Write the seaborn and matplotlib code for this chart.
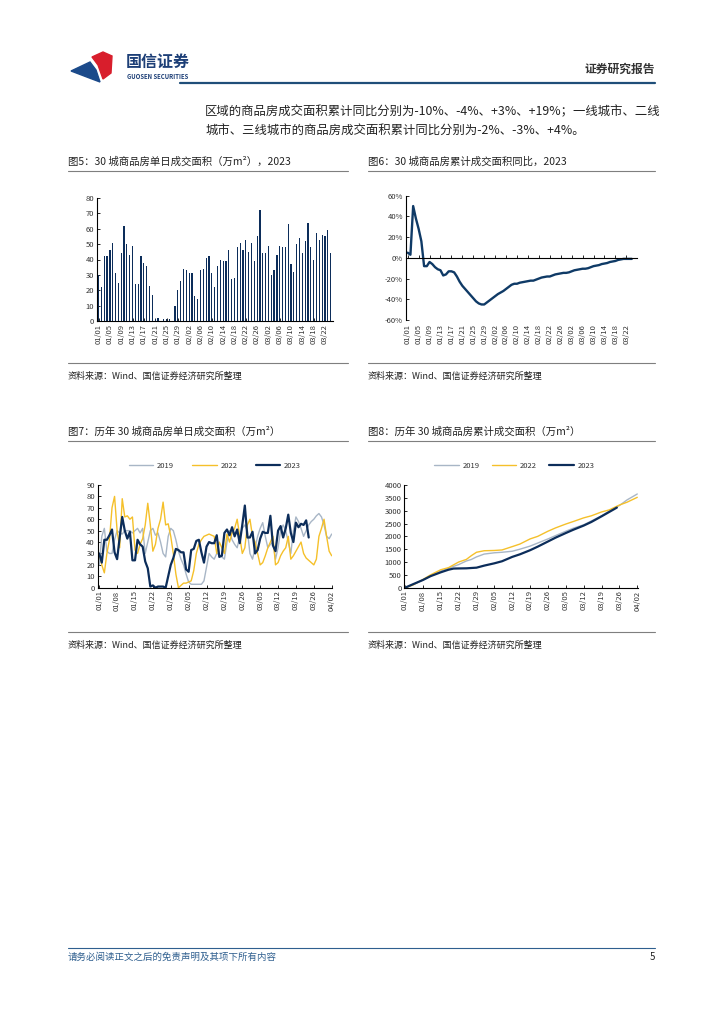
import numpy as np
import pandas as pd
import seaborn as sns
import matplotlib.pyplot as plt
from matplotlib.lines import Line2D
from matplotlib.patches import Polygon
from matplotlib.ticker import FuncFormatter

sns.set_theme(style='ticks')
plt.rcParams['font.family'] = ['Noto Sans CJK SC', 'DejaVu Sans']
plt.rcParams['axes.unicode_minus'] = False

W, H = 724, 1024
navy = '#0c2d5a'
gold = '#f5c02a'
grey = '#a8b6c6'
txt = '#222222'

# dates 01/01 .. 04/02
days = pd.date_range('2023-01-01', periods=92).strftime('%m/%d').tolist()

# fig 5 / fig 7: 2023 daily volume (10k m2), 01/01 .. 03/24
daily_2023 = [30, 22, 42, 42, 46, 51, 31, 25, 44, 62, 50, 43, 49, 24, 24, 42, 38, 36, 23, 17,
              1, 2, 0, 1, 1, 1, 0, 10, 20, 26, 34, 33, 31, 31, 16, 14, 33, 34, 41, 42,
              31, 22, 36, 40, 39, 39, 46, 27, 28, 48, 51, 46, 53, 45, 51, 39, 55, 72, 44, 44,
              49, 30, 33, 43, 49, 48, 48, 63, 37, 32, 50, 54, 44, 52, 64, 48, 40, 57, 53, 56,
              55, 59, 44]

# fig 6: cumulative yoy (%)
yoy_2023 = [5, 3, 50, 38, 28, 16, -8, -8, -4, -6, -9, -11, -12, -17, -16, -13, -13, -14, -18, -23,
            -27, -30, -33, -36, -39, -42, -44, -45, -45, -43, -41, -39, -37, -35, -33.5, -32, -30, -28, -26, -25,
            -25, -24, -23.5, -23, -22.5, -22, -22, -21, -20, -19, -18.5, -18, -18, -17, -16, -15.5, -15, -14.5, -14.5, -14,
            -13, -12, -11.5, -11, -10.5, -10.5, -10, -9, -8, -7.5, -7, -6, -5.5, -5, -4, -3.5, -3, -2, -1.5, -1,
            -1, -1, -1]

# fig 7: daily volume 2019 / 2022, 01/01 .. 04/02
daily_2019 = [20, 45, 52, 32, 30, 30, 42, 50, 48, 47, 50, 50, 50, 48, 50, 52, 48, 52, 30, 40,
              50, 52, 46, 48, 40, 30, 27, 45, 52, 50, 42, 32, 25, 20, 12, 5, 3, 3, 3, 3,
              3, 6, 18, 30, 27, 25, 30, 29, 27, 25, 40, 50, 42, 38, 35, 45, 52, 55, 50, 30,
              25, 35, 45, 52, 57, 45, 35, 38, 40, 25, 35, 50, 55, 50, 40, 30, 50, 62, 58, 52,
              45, 50, 55, 58, 60, 63, 65, 62, 55, 45, 43, 47]
daily_2022 = [30, 20, 13, 30, 42, 70, 80, 50, 35, 78, 62, 63, 60, 62, 33, 30, 38, 43, 55, 74,
              55, 32, 38, 52, 60, 75, 55, 56, 45, 30, 12, 0, 2, 4, 4, 5, 6, 15, 30, 38,
              42, 45, 46, 47, 46, 45, 30, 40, 35, 30, 47, 40, 48, 52, 60, 45, 30, 35, 55, 60,
              45, 40, 30, 20, 22, 28, 35, 40, 45, 20, 22, 28, 32, 35, 45, 25, 28, 32, 36, 40,
              30, 26, 24, 22, 20, 25, 45, 52, 60, 45, 32, 28]

# fig 8: cumulative volume, read at selected days (index from 01/01)
cum_2019_idx = [0, 3, 7, 10, 14, 17, 21, 24, 26, 28, 31, 35, 38, 42, 45, 49, 52, 56, 59, 63, 66, 70, 73, 77, 80, 84, 87, 91]
cum_2019 = [0, 120, 300, 460, 650, 760, 900, 1040, 1100, 1200, 1310, 1360, 1380, 1420, 1500, 1620, 1740, 1900,
            2030, 2200, 2320, 2450, 2600, 2800, 2980, 3200, 3420, 3650]
cum_2022_idx = [0, 3, 7, 10, 14, 17, 21, 24, 26, 28, 31, 35, 38, 42, 45, 49, 52, 56, 59, 63, 66, 70, 73, 77, 80, 84, 87, 91]
cum_2022 = [0, 100, 320, 500, 700, 780, 1000, 1100, 1250, 1380, 1440, 1450, 1470, 1600, 1700, 1900, 2000, 2200,
            2330, 2480, 2580, 2720, 2800, 2950, 3030, 3220, 3330, 3520]
cum_2023_idx = [0, 3, 7, 10, 14, 17, 19, 21, 24, 28, 31, 35, 38, 42, 45, 49, 52, 56, 59, 63, 66, 70, 73, 77, 80, 83]
cum_2023 = [0, 130, 300, 450, 600, 700, 745, 750, 755, 780, 860, 950, 1030, 1200, 1300, 1460, 1600, 1800,
            1950, 2130, 2260, 2420, 2560, 2780, 2950, 3120]

fig = plt.figure(figsize=(W / 100, H / 100), dpi=100)


def px_axes(x0, y0, x1, y1):
    return fig.add_axes([x0 / W, 1 - y1 / H, (x1 - x0) / W, (y1 - y0) / H])


def ftext(x, y, s, **kw):
    kw.setdefault('va', 'center')
    kw.setdefault('color', txt)
    fig.text(x / W, 1 - y / H, s, **kw)


def hline(x0, x1, y, color='#7f7f7f', lw=0.8):
    fig.add_artist(Line2D([x0 / W, x1 / W], [1 - y / H, 1 - y / H], color=color, lw=lw,
                          transform=fig.transFigure))


def style(ax):
    sns.despine(ax=ax)
    for s in ('left', 'bottom'):
        ax.spines[s].set_linewidth(0.8)
        ax.spines[s].set_color('black')
    ax.tick_params(axis='both', direction='in', length=2.5, width=0.7, labelsize=5.5,
                   labelcolor='#333333', pad=2)
    ax.tick_params(axis='x', labelrotation=90)
    ax.set_xlabel('')
    ax.set_ylabel('')
    ax.set_facecolor('none')


# ---------- header ----------
fig.add_artist(Polygon([(71 / W, 1 - 71 / H), (90 / W, 1 - 62 / H), (96 / W, 1 - 70 / H),
                        (100 / W, 1 - 82 / H), (92 / W, 1 - 79 / H)],
                       closed=True, color='#1b4a8a', transform=fig.transFigure))
fig.add_artist(Polygon([(92 / W, 1 - 57 / H), (103 / W, 1 - 52 / H), (112 / W, 1 - 56 / H),
                        (111 / W, 1 - 73 / H), (103 / W, 1 - 79 / H), (98 / W, 1 - 65 / H)],
                       closed=True, color='#d81e2c', transform=fig.transFigure))
ftext(126, 62, '国信证券', fontsize=11.5, weight='bold', color='#1d3f77')
ftext(127, 76.5, 'GUOSEN SECURITIES', fontsize=4.3, weight='bold', color='#1d3f77')
ftext(655, 69, '证券研究报告', fontsize=8.5, weight='bold', color='#333333', ha='right')
hline(180, 655, 83, color='#1f4e79', lw=1.6)

ftext(205, 112, '区域的商品房成交面积累计同比分别为-10%、-4%、+3%、+19%；一线城市、二线', fontsize=8.9)
ftext(205, 131, '城市、三线城市的商品房成交面积累计同比分别为-2%、-3%、+4%。', fontsize=8.9)

# ---------- titles, separators, sources ----------
ftext(68, 162, '图5：30 城商品房单日成交面积（万m²），2023', fontsize=7.5)
ftext(368, 162, '图6：30 城商品房累计成交面积同比，2023', fontsize=7.5)
ftext(68, 432, '图7：历年 30 城商品房单日成交面积（万m²）', fontsize=7.5)
ftext(368, 432, '图8：历年 30 城商品房累计成交面积（万m²）', fontsize=7.5)
for y in (171, 363, 441, 632):
    hline(68, 348, y)
    hline(368, 655, y)
for x in (68, 368):
    ftext(x, 376, '资料来源：Wind、国信证券经济研究所整理', fontsize=6.5)
    ftext(x, 645, '资料来源：Wind、国信证券经济研究所整理', fontsize=6.5)

# ---------- fig 5 ----------
ax5 = px_axes(97, 198, 333.3, 321)
sns.barplot(x=days[:len(daily_2023)], y=daily_2023, color=navy, saturation=1, width=0.42,
            linewidth=0, ax=ax5)
ax5.set_ylim(0, 80)
ax5.set_yticks(range(0, 81, 10))
ax5.set_xlim(-0.56, len(daily_2023) - 0.08)
ax5.set_xticks(range(0, len(daily_2023), 4))
ax5.set_xticklabels(days[0:len(daily_2023):4])
style(ax5)

# ---------- fig 6 ----------
ax6 = px_axes(405.7, 195.7, 636.7, 320)
sns.lineplot(x=np.arange(len(yoy_2023)), y=yoy_2023, color='#0f3a66', lw=1.7, ax=ax6)
ax6.set_ylim(-60, 60)
ax6.set_yticks(range(-60, 61, 20))
ax6.yaxis.set_major_formatter(FuncFormatter(lambda v, p: f'{int(v)}%'))
ax6.set_xlim(-0.73, len(yoy_2023) + 0.8)
style(ax6)
ax6.spines['bottom'].set_position(('data', 0))
ax6.set_xticks(range(0, len(yoy_2023), 4))
ax6.tick_params(axis='x', labelbottom=False)
sec6 = ax6.secondary_xaxis(0.0)
sec6.set_xticks(range(0, len(yoy_2023), 4))
sec6.set_xticklabels(days[0:len(yoy_2023):4])
sec6.tick_params(axis='x', length=0, labelsize=5.5, labelcolor='#333333', labelrotation=90, pad=3)
sec6.spines['bottom'].set_visible(False)

# ---------- fig 7 ----------
ax7 = px_axes(97.7, 485, 331.7, 587.7)
sns.lineplot(x=np.arange(len(daily_2019)), y=daily_2019, color=grey, lw=1.0, label='2019', ax=ax7)
sns.lineplot(x=np.arange(len(daily_2022)), y=daily_2022, color=gold, lw=1.0, label='2022', ax=ax7)
sns.lineplot(x=np.arange(len(daily_2023)), y=daily_2023, color=navy, lw=1.6, label='2023', ax=ax7)
ax7.set_ylim(0, 90)
ax7.set_yticks(range(0, 91, 10))
ax7.set_xlim(-0.6, 91.0)
ax7.set_xticks(range(0, 92, 7))
ax7.set_xticklabels(days[0:92:7])
style(ax7)
ax7.legend(ncol=3, loc='center', bbox_to_anchor=(0.5, 1.185), frameon=False, fontsize=5.5,
           handlelength=3.2, handletextpad=0.5, columnspacing=2.4, labelcolor='#333333')

# ---------- fig 8 ----------
ax8 = px_axes(404.3, 485, 638.3, 587.7)
sns.lineplot(x=cum_2019_idx, y=cum_2019, color=grey, lw=1.0, label='2019', ax=ax8)
sns.lineplot(x=cum_2022_idx, y=cum_2022, color=gold, lw=1.0, label='2022', ax=ax8)
sns.lineplot(x=cum_2023_idx, y=cum_2023, color=navy, lw=1.6, label='2023', ax=ax8)
ax8.set_ylim(0, 4000)
ax8.set_yticks(range(0, 4001, 500))
ax8.set_xlim(-0.3, 91.4)
ax8.set_xticks(range(0, 92, 7))
ax8.set_xticklabels(days[0:92:7])
style(ax8)
ax8.legend(ncol=3, loc='center', bbox_to_anchor=(0.47, 1.185), frameon=False, fontsize=5.5,
           handlelength=3.2, handletextpad=0.5, columnspacing=1.6, labelcolor='#333333')

# ---------- footer ----------
hline(68, 655, 948, color='#2f5f8f', lw=0.8)
ftext(68, 957, '请务必阅读正文之后的免责声明及其项下所有内容', fontsize=6.8, color='#2f5f8f', style='italic')
ftext(655, 957, '5', fontsize=7, color='#222222', ha='right')

fig.savefig('out.png', dpi=100)
